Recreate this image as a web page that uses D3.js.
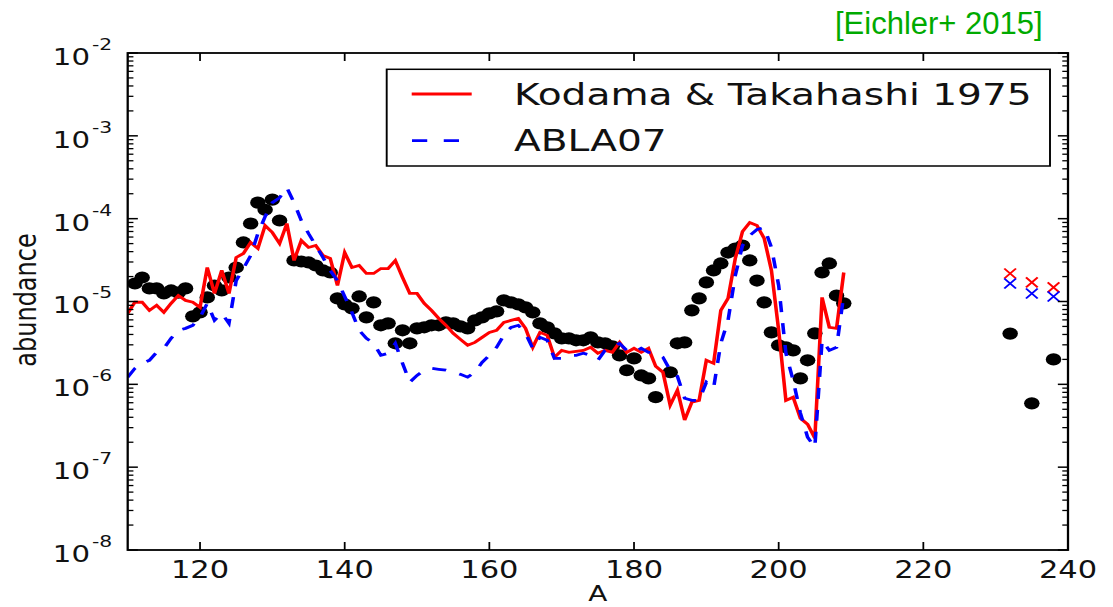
<!DOCTYPE html>
<html>
<head>
<meta charset="utf-8">
<script src="https://cdn.jsdelivr.net/npm/d3@7"></script>
<style>
  html, body { margin: 0; padding: 0; background: #fff; }
  svg { display: block; }
</style>
</head>
<body>
<svg id="chart" width="1113" height="607"></svg>
<script>
// ---------------- data ----------------
const lineA = [110,111,112,113,114,115,116,117,118,119,120,121,122,123,124,125,126,127,128,129,
  130,131,132,133,134,135,136,137,138,139,140,141,142,143,144,145,146,147,148,149,
  150,151,152,153,154,155,156,157,158,159,160,161,162,163,164,165,166,167,168,169,
  170,171,172,173,174,175,176,177,178,179,180,181,182,183,184,185,186,187,188,189,
  190,191,192,193,194,195,196,197,198,199,200,201,202,203,204,205,206,207,208,209];

const kodama = [7.2e-6,9.8e-6,9.8e-6,7.8e-6,9.0e-6,7.4e-6,9.5e-6,1.18e-5,1.03e-5,9.8e-6,
  8.5e-6,2.57e-5,1.25e-5,2.37e-5,1.25e-5,3.40e-5,3.80e-5,5.16e-5,4.36e-5,8.27e-5,
  6.81e-5,5.01e-5,8.74e-5,3.13e-5,5.45e-5,4.49e-5,4.74e-5,3.59e-5,3.30e-5,1.56e-5,
  3.90e-5,2.57e-5,2.72e-5,2.18e-5,2.18e-5,2.50e-5,2.50e-5,3.13e-5,1.95e-5,1.25e-5,
  1.25e-5,9.5e-6,7.8e-6,6.26e-6,5.16e-6,4.13e-6,3.49e-6,2.96e-6,3.21e-6,3.69e-6,
  4.24e-6,4.49e-6,5.60e-6,5.92e-6,6.26e-6,4.74e-6,2.80e-6,4.24e-6,3.90e-6,2.12e-6,
  2.57e-6,2.43e-6,2.50e-6,2.57e-6,2.80e-6,2.37e-6,2.57e-6,2.43e-6,3.21e-6,2.43e-6,
  2.72e-6,2.43e-6,2.72e-6,1.65e-6,1.40e-6,5.6e-7,8.5e-7,3.7e-7,6.1e-7,6.4e-7,
  1.95e-6,1.79e-6,7.8e-6,1.09e-5,3.30e-5,7.0e-5,8.99e-5,8.27e-5,5.76e-5,2.37e-5,
  4.49e-6,6.4e-7,7.0e-7,3.9e-7,3.3e-7,2.24e-7,1.12e-5,4.88e-6,4.74e-6,2.24e-5];

const abla07 = [1.22e-6,1.56e-6,1.79e-6,1.95e-6,2.43e-6,2.72e-6,3.59e-6,4.49e-6,4.74e-6,5.16e-6,
  6.44e-6,9.5e-6,5.92e-6,7.2e-6,5.45e-6,1.79e-5,2.50e-5,3.59e-5,6.62e-5,1.06e-4,
  1.56e-4,1.79e-4,2.37e-4,1.56e-4,9.5e-5,6.62e-5,4.74e-5,3.40e-5,2.37e-5,1.79e-5,
  1.15e-5,7.4e-6,4.49e-6,3.59e-6,3.13e-6,2.24e-6,2.37e-6,3.13e-6,1.79e-6,1.06e-6,
  1.28e-6,1.48e-6,1.56e-6,1.52e-6,1.48e-6,1.40e-6,1.32e-6,1.22e-6,1.40e-6,1.84e-6,
  2.24e-6,2.80e-6,3.90e-6,4.88e-6,5.16e-6,4.13e-6,2.72e-6,3.69e-6,3.40e-6,2.06e-6,
  2.06e-6,2.24e-6,2.24e-6,2.37e-6,2.24e-6,1.95e-6,2.57e-6,2.80e-6,3.13e-6,2.57e-6,
  2.43e-6,2.72e-6,2.43e-6,2.43e-6,2.12e-6,1.48e-6,1.25e-6,6.8e-7,6.4e-7,6.4e-7,
  1.06e-6,9.0e-7,3.13e-6,5.92e-6,2.06e-5,4.74e-5,6.26e-5,7.40e-5,7.82e-5,4.49e-5,
  1.56e-5,2.37e-6,1.12e-6,4.5e-7,2.3e-7,1.74e-7,3.4e-6,2.57e-6,2.80e-6,1.2e-5];

const solarA = [111,112,113,114,115,116,117,118,119,120,121,122,123,124,125,126,127,128,129,130,131,
  133,134,135,136,137,138,139,140,141,142,143,144,145,146,147,148,149,150,151,152,153,154,155,156,157,
  158,159,160,161,162,163,164,165,166,167,168,169,170,171,172,173,174,175,176,177,178,179,180,181,182,183,
  185,186,187,188,189,190,191,192,193,194,195,196,197,198,199,200,201,202,203,204,205,206,207,208,209,
  232,235,238];

const solar = [1.65e-5,1.95e-5,1.44e-5,1.44e-5,1.25e-5,1.36e-5,1.28e-5,1.44e-5,6.62e-6,7.40e-6,
  1.12e-5,1.56e-5,1.36e-5,1.95e-5,2.57e-5,5.16e-5,8.74e-5,1.56e-4,1.28e-4,1.70e-4,9.5e-5,
  3.13e-5,3.04e-5,2.96e-5,2.72e-5,2.37e-5,2.24e-5,1.09e-5,9.24e-6,8.27e-6,1.15e-5,6.44e-6,9.77e-6,
  5.16e-6,5.45e-6,3.13e-6,4.49e-6,3.13e-6,4.74e-6,4.88e-6,5.16e-6,5.16e-6,5.60e-6,5.45e-6,5.01e-6,4.74e-6,
  5.92e-6,6.44e-6,7.20e-6,7.61e-6,1.03e-5,9.77e-6,9.24e-6,8.50e-6,7.40e-6,5.45e-6,4.88e-6,4.13e-6,
  3.59e-6,3.59e-6,3.40e-6,3.40e-6,3.69e-6,3.21e-6,3.13e-6,2.88e-6,2.24e-6,1.48e-6,2.06e-6,1.28e-6,1.18e-6,7.0e-7,
  1.40e-6,3.13e-6,3.21e-6,7.82e-6,1.09e-5,1.70e-5,2.37e-5,2.88e-5,3.90e-5,4.36e-5,4.74e-5,3.13e-5,
  1.79e-5,9.77e-6,4.24e-6,2.96e-6,2.80e-6,2.57e-6,1.18e-6,1.95e-6,4.13e-6,2.24e-5,2.88e-5,1.18e-5,9.5e-6,
  4.1e-6,5.9e-7,2.0e-6];

const actinideA = [232,235,238];
const kodamaActinides = [2.18e-5,1.70e-5,1.48e-5];
const ablaActinides = [1.65e-5,1.25e-5,1.15e-5];

const xTicks = [120,140,160,180,200,220,240];
const yExponents = [-8,-7,-6,-5,-4,-3,-2];
const legendLabels = ["Kodama & Takahashi 1975", "ABLA07"];
const titleText = "[Eichler+ 2015]";
const xLabel = "A";
const yLabel = "abundance";

// ---------------- layout ----------------
const SX = 1.27;               // horizontal stretch of the original picture
const W = 1113, H = 607;
const L = 127.7 / SX, R = 1068 / SX, T = 53, B = 550;
const font = "'DejaVu Sans', sans-serif";

const svg = d3.select("#chart");
const g = svg.append("g").attr("transform", `scale(${SX},1)`);

const x = d3.scaleLinear().domain([110, 240]).range([L, R]);
const y = d3.scaleLog().domain([1e-8, 1e-2]).range([B, T]);

g.append("clipPath").attr("id", "clip")
  .append("rect").attr("x", L).attr("y", T).attr("width", R - L).attr("height", B - T);

const plot = g.append("g").attr("clip-path", "url(#clip)");

// black dots
plot.selectAll("circle.solar").data(solarA).join("circle")
  .attr("class", "solar")
  .attr("cx", d => x(d))
  .attr("cy", (d, i) => y(solar[i]))
  .attr("r", 6.1)
  .attr("fill", "#000");

const line = d3.line().x(d => x(d[0])).y(d => y(d[1]));

plot.append("path")
  .datum(lineA.map((a, i) => [a, kodama[i]]))
  .attr("d", line)
  .attr("fill", "none").attr("stroke", "#ff0000").attr("stroke-width", 2.8)
  .attr("stroke-linejoin", "miter");

plot.append("path")
  .datum(lineA.map((a, i) => [a, abla07[i]]))
  .attr("d", line)
  .attr("fill", "none").attr("stroke", "#0000ff").attr("stroke-width", 2.8)
  .attr("stroke-dasharray", "11,11");

// crosses
function crosses(vals, color) {
  const s = 4.6, h = 5;
  plot.selectAll(null).data(actinideA).join("path")
    .attr("d", (d, i) => {
      const cx = x(d), cy = y(vals[i]);
      return `M${cx - s},${cy - h}L${cx + s},${cy + h}M${cx - s},${cy + h}L${cx + s},${cy - h}`;
    })
    .attr("stroke", color).attr("stroke-width", 1.7).attr("fill", "none");
}
crosses(kodamaActinides, "#ff0000");
crosses(ablaActinides, "#0000ff");

// ---------------- axes / ticks ----------------
const axisG = g.append("g");
const major = 8, minor = 4.5;
const tickColor = "#000";

const yMajor = yExponents.map(e => Math.pow(10, e));
const yMinor = [];
yExponents.slice(0, -1).forEach(e => { for (let m = 2; m <= 9; m++) yMinor.push(m * Math.pow(10, e)); });

axisG.selectAll("line.ymaj").data(yMajor).join("line")
  .attr("x1", L).attr("x2", L + major).attr("y1", d => y(d)).attr("y2", d => y(d))
  .attr("stroke", tickColor).attr("stroke-width", 1.5);
axisG.selectAll("line.ymajr").data(yMajor).join("line")
  .attr("x1", R).attr("x2", R - major).attr("y1", d => y(d)).attr("y2", d => y(d))
  .attr("stroke", tickColor).attr("stroke-width", 1.5);
axisG.selectAll("line.ymin").data(yMinor).join("line")
  .attr("x1", L).attr("x2", L + minor).attr("y1", d => y(d)).attr("y2", d => y(d))
  .attr("stroke", tickColor).attr("stroke-width", 1.3);
axisG.selectAll("line.yminr").data(yMinor).join("line")
  .attr("x1", R).attr("x2", R - minor).attr("y1", d => y(d)).attr("y2", d => y(d))
  .attr("stroke", tickColor).attr("stroke-width", 1.3);

axisG.selectAll("line.xb").data(xTicks).join("line")
  .attr("x1", d => x(d)).attr("x2", d => x(d)).attr("y1", B).attr("y2", B - major)
  .attr("stroke", tickColor).attr("stroke-width", 1.4);
axisG.selectAll("line.xt").data(xTicks).join("line")
  .attr("x1", d => x(d)).attr("x2", d => x(d)).attr("y1", T).attr("y2", T + major)
  .attr("stroke", tickColor).attr("stroke-width", 1.4);

axisG.append("rect").attr("x", L).attr("y", T).attr("width", R - L).attr("height", B - T)
  .attr("fill", "none").attr("stroke", "#000").attr("stroke-width", 1.8);

// y tick labels
const ylab = axisG.selectAll("g.ylab").data(yExponents).join("g");
ylab.append("text")
  .attr("x", 90 / SX).attr("y", d => y(Math.pow(10, d)) + 12)
  .attr("text-anchor", "end").attr("font-family", font).attr("font-size", 23)
  .attr("fill", "#111").text("10");
ylab.append("text")
  .attr("x", 92 / SX).attr("y", d => y(Math.pow(10, d)) - 3)
  .attr("text-anchor", "start").attr("font-family", font).attr("font-size", 16)
  .attr("fill", "#111").text(d => String(d));

// x tick labels
axisG.selectAll("text.xlab").data(xTicks).join("text")
  .attr("x", d => x(d)).attr("y", 578)
  .attr("text-anchor", "middle").attr("font-family", font).attr("font-size", 24)
  .attr("fill", "#111").text(d => d);

// axis labels
axisG.append("text")
  .attr("x", x(175)).attr("y", 601)
  .attr("text-anchor", "middle").attr("font-family", font).attr("font-size", 22)
  .attr("fill", "#111").text(xLabel);
axisG.append("text")
  .attr("transform", `translate(${36 / SX},${300}) rotate(-90)`)
  .attr("text-anchor", "middle").attr("font-family", font).attr("font-size", 24)
  .attr("fill", "#111").text(yLabel);

// ---------------- legend ----------------
const lg = g.append("g");
lg.append("rect")
  .attr("x", 386.7 / SX).attr("y", 69.3)
  .attr("width", (1050 - 386.7) / SX).attr("height", 166 - 69.3)
  .attr("fill", "#fff").attr("stroke", "#000").attr("stroke-width", 1.5);
lg.append("line")
  .attr("x1", 411.7 / SX).attr("x2", 471.7 / SX).attr("y1", 94).attr("y2", 94)
  .attr("stroke", "#ff0000").attr("stroke-width", 2.8);
lg.append("line")
  .attr("x1", 412 / SX).attr("x2", 471 / SX).attr("y1", 140.7).attr("y2", 140.7)
  .attr("stroke", "#0000ff").attr("stroke-width", 2.8).attr("stroke-dasharray", "12,13");
lg.selectAll("text.leg").data(legendLabels).join("text")
  .attr("x", 514 / SX).attr("y", (d, i) => i === 0 ? 105 : 150.7)
  .attr("font-family", font).attr("font-size", 30.8).attr("fill", "#111")
  .text(d => d);

// ---------------- title (not stretched) ----------------
svg.append("text")
  .attr("x", 835).attr("y", 33.5)
  .attr("font-family", "'Liberation Sans', Arial, sans-serif").attr("font-size", 31)
  .attr("fill", "#00aa00").text(titleText);
</script>
</body>
</html>
